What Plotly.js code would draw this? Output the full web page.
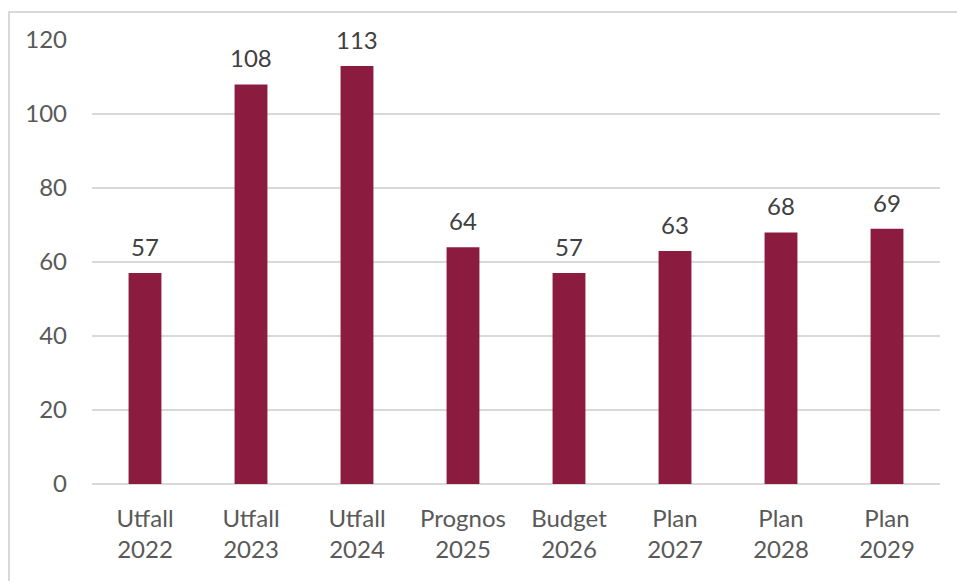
<!DOCTYPE html>
<html>
<head>
<meta charset="utf-8">
<script src="https://cdn.plot.ly/plotly-3.0.1.min.js"></script>
<style>
  html, body { margin: 0; padding: 0; background: #fff; }
  #wrap { position: relative; width: 957px; height: 581px; }
  #chart { width: 957px; height: 581px; }
  #frame { position: absolute; left: 8px; top: 11px; right: -5px; bottom: -5px;
           border-left: 2px solid #d9d9d9; border-top: 2px solid #d9d9d9; pointer-events: none; }
</style>
</head>
<body>
<div id="wrap">
  <div id="chart"></div>
  <div id="frame"></div>
</div>
<script>
const categories = ["Utfall<br>2022", "Utfall<br>2023", "Utfall<br>2024", "Prognos<br>2025",
                    "Budget<br>2026", "Plan<br>2027", "Plan<br>2028", "Plan<br>2029"];
const values = [57, 108, 113, 64, 57, 63, 68, 69];
const yTicks = [0, 20, 40, 60, 80, 100, 120];

const fontFam = "Lato, 'Open Sans', sans-serif";
const fs = 24;

const trace = {
  type: "bar",
  x: categories,
  y: values,
  marker: { color: "#8b1c40", line: { width: 0 } },
  hoverinfo: "none"
};

const annotations = categories.map((c, i) => ({
  x: c, y: values[i], xref: "x", yref: "y",
  text: String(values[i]),
  showarrow: false, yanchor: "bottom", yshift: 10,
  font: { family: fontFam, size: fs, color: "#404040" }
}));

const layout = {
  width: 957, height: 581,
  margin: { l: 92, r: 17, t: 40, b: 97 },
  paper_bgcolor: "#fff", plot_bgcolor: "#fff",
  bargap: 0.69,
  showlegend: false,
  font: { family: fontFam, size: fs, color: "#595959" },
  xaxis: {
    type: "category",
    showgrid: false, zeroline: false, showline: false,
    ticks: "", ticklabelstandoff: 18,
    tickfont: { family: fontFam, size: fs, color: "#595959" },
    automargin: false
  },
  yaxis: {
    range: [0, 120], tickvals: yTicks, ticktext: yTicks.map(String),
    showgrid: true, gridcolor: "#d9d9d9", gridwidth: 1.5,
    zeroline: true, zerolinecolor: "#d9d9d9", zerolinewidth: 2,
    showline: false, ticks: "", ticklabelstandoff: 24,
    tickfont: { family: fontFam, size: fs, color: "#595959" },
    automargin: false, fixedrange: true
  },
  annotations: annotations
};

Plotly.newPlot("chart", [trace], layout, { staticPlot: true, displayModeBar: false });
</script>
</body>
</html>
